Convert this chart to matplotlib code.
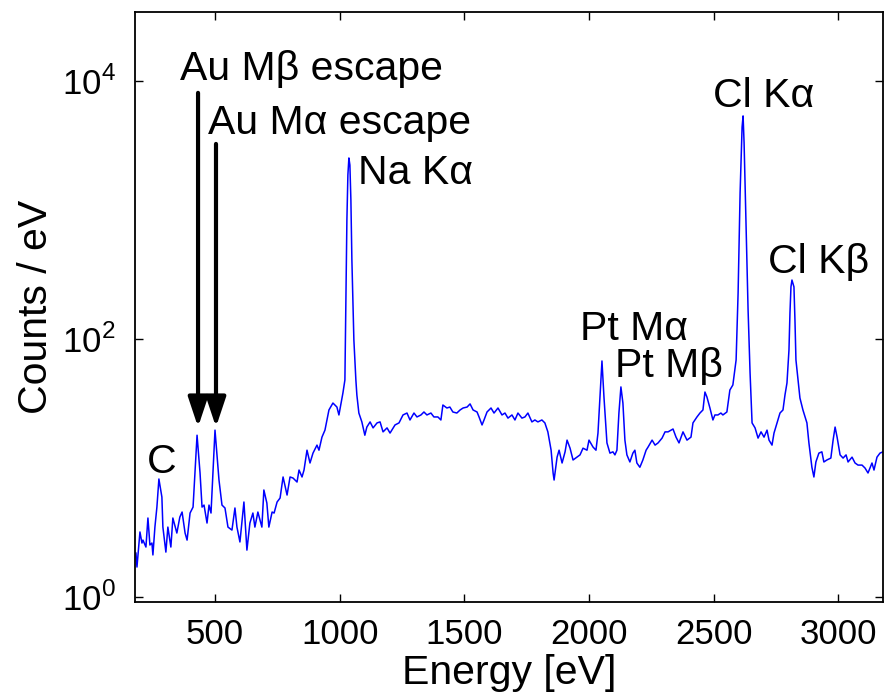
import math
import matplotlib
matplotlib.use("Agg")
import matplotlib.pyplot as plt
from matplotlib.ticker import FixedLocator, NullLocator, FuncFormatter

plt.rcParams['font.family'] = ['Liberation Sans', 'DejaVu Sans']
plt.rcParams['mathtext.fontset'] = 'custom'
plt.rcParams['mathtext.rm'] = 'Liberation Sans'

# spectrum: energy [eV] and counts / eV
energy = [183, 187, 199, 207, 211, 223, 231, 239, 247, 251, 259, 267, 275, 287, 291,
          303, 311, 323, 331, 347, 359, 368, 380, 388, 400, 412, 428, 440, 448, 456,
          468, 476, 484, 500, 516, 528, 540, 552, 568, 580, 588, 600, 616, 628, 640,
          652, 660, 672, 688, 696, 708, 716, 729, 737, 749, 761, 773, 789, 801, 813,
          829, 837, 849, 857, 869, 881, 893, 909, 917, 929, 941, 957, 973, 989, 997,
          1013, 1021, 1025, 1029, 1033, 1037, 1041, 1045, 1049, 1057, 1065, 1069, 1077,
          1089, 1101, 1109, 1122, 1134, 1150, 1162, 1174, 1190, 1202, 1222, 1238, 1254,
          1270, 1282, 1298, 1310, 1326, 1338, 1350, 1366, 1378, 1394, 1406, 1414, 1430,
          1442, 1454, 1470, 1483, 1495, 1511, 1523, 1535, 1551, 1559, 1571, 1579, 1591,
          1607, 1619, 1635, 1651, 1663, 1675, 1691, 1703, 1715, 1731, 1743, 1755, 1771,
          1783, 1795, 1811, 1823, 1835, 1848, 1856, 1860, 1872, 1880, 1892, 1904, 1912,
          1924, 1936, 1952, 1964, 1976, 1992, 2000, 2016, 2028, 2036, 2044, 2052, 2060,
          2072, 2084, 2096, 2104, 2112, 2120, 2128, 2136, 2144, 2152, 2164, 2176, 2184,
          2192, 2204, 2216, 2229, 2237, 2253, 2265, 2277, 2293, 2305, 2317, 2337, 2349,
          2361, 2377, 2393, 2409, 2417, 2433, 2445, 2457, 2465, 2473, 2485, 2497, 2505,
          2517, 2529, 2537, 2553, 2565, 2577, 2590, 2598, 2606, 2614, 2618, 2622, 2630,
          2638, 2646, 2654, 2666, 2678, 2690, 2702, 2714, 2722, 2734, 2742, 2754, 2766,
          2778, 2786, 2794, 2802, 2806, 2810, 2814, 2822, 2826, 2830, 2846, 2858, 2874,
          2882, 2894, 2902, 2910, 2922, 2934, 2942, 2954, 2970, 2979, 2987, 2995, 3007,
          3019, 3031, 3039, 3055, 3067, 3079, 3095, 3107, 3119, 3135, 3143, 3155, 3167,
          3179]
counts = [2.18, 1.70, 3.18, 2.61, 2.75, 2.43, 4.08, 2.52, 2.61, 2.11, 3.47, 4.96, 8.19, 5.93, 3.47,
          2.22, 3.47, 2.43, 4.08, 3.12, 4.15, 4.54, 3.12, 2.75, 4.46, 4.96, 17.9, 9.12, 4.96, 5.14,
          3.73, 5.14, 4.46, 19.6, 8.04, 5.14, 4.88, 3.47, 3.29, 4.88, 3.47, 2.66, 5.43, 2.30, 3.73,
          4.46, 3.47, 4.54, 3.47, 6.73, 5.33, 3.47, 4.54, 4.46, 5.43, 5.83, 8.49, 6.15, 8.49, 8.33,
          7.76, 9.61, 8.49, 9.61, 13.7, 10.9, 13.0, 15.0, 13.7, 17.3, 19.6, 28.1, 31.8, 29.6, 25.7,
          38.0, 48.0, 200, 836, 1870, 2530, 2230, 1200, 409, 98, 48.0, 36.7, 26.6,
          22.7, 17.9, 20.7, 22.7, 20.4, 22.3, 22.7, 19.0, 20.4, 18.6, 21.5, 22.3, 25.7,
          26.6, 23.5, 26.6, 24.8, 25.7, 27.1, 25.7, 26.6, 24.8, 24.8, 23.5, 30.7, 29.1,
          29.6, 27.1, 26.6, 28.1, 29.1, 29.6, 31.3, 28.1, 27.1, 24.8, 21.5, 23.5, 27.1,
          29.1, 26.6, 29.1, 25.7, 26.6, 24.3, 25.7, 23.5, 26.6, 24.3, 24.8, 26.6, 22.7,
          23.5, 22.7, 23.5, 22.3, 19.0, 13.7, 9.12, 8.04, 12.1, 13.7, 10.9, 13.3, 16.4,
          14.2, 11.5, 12.1, 12.6, 14.2, 13.7, 16.4, 14.5, 13.7, 18.6, 35.4, 67.4, 35.4,
          15.6, 13.0, 13.3, 12.6, 13.7, 26.6, 42.4, 31.8, 16.4, 12.6, 11.1, 13.0, 13.7,
          10.9, 10.1, 11.5, 13.7, 14.5, 16.4, 15.0, 15.6, 17.0, 19.0, 19.0, 20.0, 17.3,
          15.6, 19.0, 16.4, 17.3, 22.3, 24.8, 26.6, 28.1, 38.7, 35.4, 29.1, 23.5, 25.7,
          25.7, 26.6, 25.7, 27.1, 40.1, 43.9, 68.6, 227, 1355, 4400, 5360, 3310, 738,
          168, 54.4, 22.3, 20.4, 17.0, 19.0, 17.3, 19.6, 16.4, 15.0, 18.6, 22.3, 26.6,
          28.1, 36.7, 45.5, 82, 159, 253, 286, 253, 140, 68.6, 34.8, 28.1, 22.3,
          15.6, 10.1, 8.49, 11.1, 13.0, 13.3, 11.1, 11.5, 11.9, 16.4, 20.7, 17.3, 12.6,
          11.9, 12.6, 11.1, 12.1, 10.9, 10.5, 10.5, 9.96, 9.12, 10.9, 9.61, 12.1, 13.0,
          13.3]

x_ticks = [500, 1000, 1500, 2000, 2500, 3000]
y_ticks = [1, 100, 10000]

# peak labels: text, energy, counts (baseline-left anchor)
labels = ["C", "Au M\u03b2 escape", "Au M\u03b1 escape", "Na K\u03b1",
          "Pt M\u03b1", "Pt M\u03b2", "Cl K\u03b1", "Cl K\u03b2"]
label_e = [227, 360, 472, 1073, 1964, 2104, 2497, 2718]
label_c = [9.1, 10190, 3890, 1592, 98, 50.6, 6300, 325]

# escape arrows: energy, tail, tip
arrow_e = [432, 504]
arrow_top = [8090, 3250]
arrow_tip = [20.7, 20.7]

fig = plt.figure(figsize=(8.85, 6.95), dpi=100)
ax = fig.add_axes([0.1525, 0.1342, 0.8452, 0.8481])

ax.plot(energy, counts, color=(0, 0, 1), lw=1.1)
ax.set_yscale('log')
ax.set_xlim(179, 3179)
ax.set_ylim(0.915, 3.41e4)

ax.xaxis.set_major_locator(FixedLocator(x_ticks))
ax.yaxis.set_major_locator(FixedLocator(y_ticks))
ax.yaxis.set_minor_locator(NullLocator())
ax.yaxis.set_major_formatter(FuncFormatter(lambda v, p: r'$10^{%d}$' % round(math.log10(v))))
ax.tick_params(direction='in', length=5.5, width=1, top=True, right=True, labelsize=25)
ax.tick_params(axis='x', pad=12)
ax.tick_params(axis='y', pad=14)
for s in ax.spines.values():
    s.set_linewidth(1.3)

ax.set_xlabel('Energy [eV]', fontsize=29.5, labelpad=2)
ax.set_ylabel('Counts / eV', fontsize=29.5, labelpad=5)

for t, e, c in zip(labels, label_e, label_c):
    ax.text(e, c, t, fontsize=29.5, ha='left', va='baseline')

for e, top, tip in zip(arrow_e, arrow_top, arrow_tip):
    ax.annotate('', xy=(e, tip), xytext=(e, top),
                arrowprops=dict(arrowstyle='-|>,head_width=0.3,head_length=0.9',
                                lw=3, color='k', shrinkA=0, shrinkB=0, mutation_scale=20))

fig.savefig('out.png', dpi=100)
